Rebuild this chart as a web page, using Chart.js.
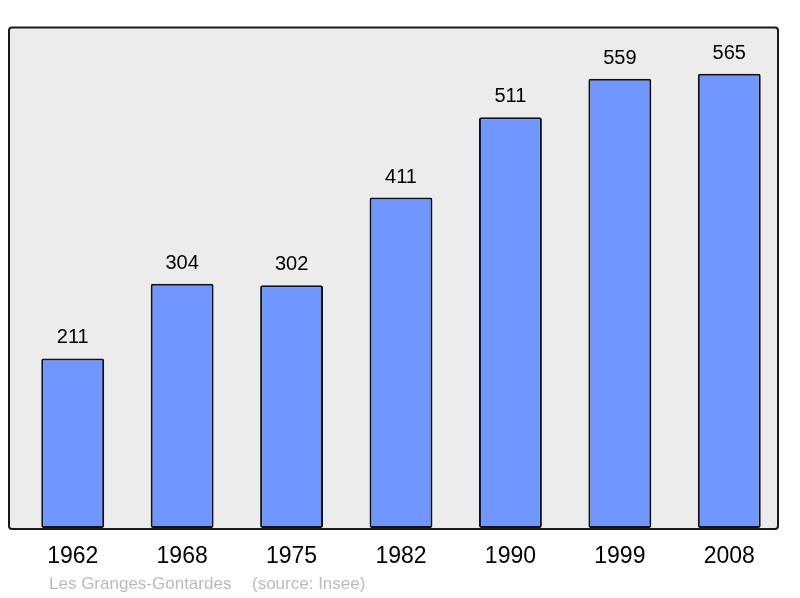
<!DOCTYPE html>
<html>
<head>
<meta charset="utf-8">
<script src="https://cdn.jsdelivr.net/npm/chart.js@4/dist/chart.umd.min.js"></script>
<style>
html,body{margin:0;padding:0;background:#fff;}
#wrap{width:800px;height:598px;position:relative;}
</style>
</head>
<body>
<div id="wrap"><canvas id="c" width="800" height="598"></canvas></div>
<script>
const years = ["1962","1968","1975","1982","1990","1999","2008"];
const population = [211,304,302,411,511,559,565];
const yMax = 622;
const placeName = "Les Granges-Gontardes";
const sourceText = "(source: Insee)";

function framePath(ctx, a){
  ctx.beginPath();
  ctx.roundRect(a.left - 9, a.top - 0.5, (a.right - 6) - (a.left - 9), a.bottom - a.top + 1.5, 3);
}

const frame = {
  id: 'frame',
  beforeDraw(chart){
    const {ctx, chartArea:a} = chart;
    ctx.save();
    ctx.fillStyle = '#ececec';
    framePath(ctx, a);
    ctx.fill();
    ctx.restore();
  },
  afterDatasetsDraw(chart){
    const {ctx, chartArea:a, scales} = chart;
    ctx.save();
    ctx.strokeStyle = '#1a1a1a';
    ctx.lineWidth = 2;
    framePath(ctx, a);
    ctx.stroke();
    const meta = chart.getDatasetMeta(0);
    ctx.fillStyle = '#000';
    ctx.textAlign = 'center';
    ctx.textBaseline = 'alphabetic';
    ctx.font = '20px "Liberation Sans", Arial, sans-serif';
    meta.data.forEach((bar, i) => {
      ctx.fillText(String(population[i]), bar.x, scales.y.getPixelForValue(population[i]) - 15);
    });
    ctx.font = '23px "Liberation Sans", Arial, sans-serif';
    ctx.textBaseline = 'middle';
    years.forEach((y, i) => {
      ctx.fillText(y, scales.x.getPixelForValue(i), 557);
    });
    ctx.font = '17px "Liberation Sans", Arial, sans-serif';
    ctx.fillStyle = '#bbbbbb';
    ctx.textAlign = 'left';
    ctx.fillText(placeName, 49, 584);
    ctx.fillText(sourceText, 252, 584);
    ctx.restore();
  }
};

new Chart(document.getElementById('c'), {
  type: 'bar',
  data: {
    labels: years,
    datasets: [{
      data: population,
      backgroundColor: '#7096ff',
      borderColor: '#111',
      borderWidth: 2,
      borderRadius: 2,
      borderSkipped: false,
      categoryPercentage: 1,
      barPercentage: 0.575
    }]
  },
  options: {
    responsive: false,
    animation: false,
    devicePixelRatio: 1,
    layout: { padding: { left: 18, right: 16, top: 28, bottom: 70 } },
    plugins: { legend: { display: false }, tooltip: { enabled: false } },
    scales: {
      x: { display: false },
      y: { display: false, min: 0, max: yMax }
    }
  },
  plugins: [frame]
});
</script>
</body>
</html>
